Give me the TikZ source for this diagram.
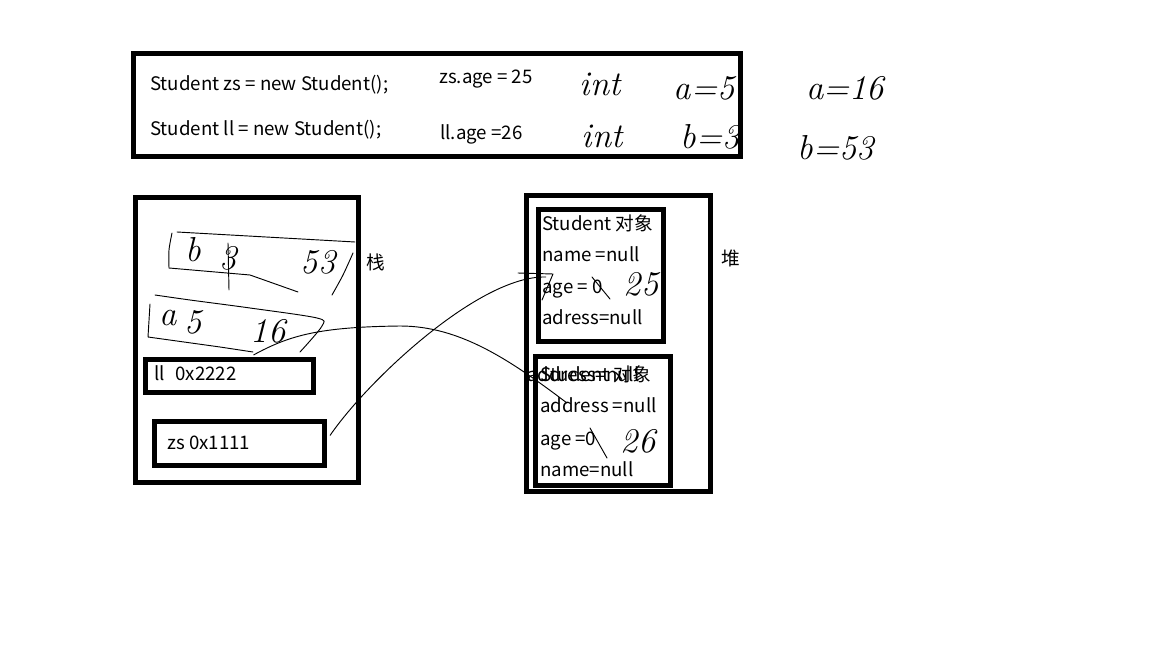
\documentclass[tikz,border=0pt]{standalone}
\usepackage{fontspec}
\newfontfamily\yahei{Noto Sans CJK SC}
\usetikzlibrary{calc, fit, positioning}

\begin{document}
\begin{tikzpicture}[x=0.75pt, y=-0.75pt, >=latex, font=\yahei\fontsize{14}{16}\selectfont,
    box/.style={draw, line width=3.75pt, inner sep=0pt},
    txt/.style={anchor=base west, inner sep=0pt},
    link/.style={line width=0.7pt},
    hand/.style={line width=0.7pt, line join=round, line cap=round},
    htxt/.style={inner sep=0pt, font=\normalfont\itshape\fontsize{26}{28}\selectfont}]
    \useasboundingbox (0,0) rectangle (1152,648);

    \coordinate (a01) at (133.5, 53.5);
    \coordinate (a02) at (740.5,156.5);
    \coordinate (a03) at (135.5,197.5);
    \coordinate (a04) at (358  ,482.5);
    \coordinate (a05) at (526.5,195.5);
    \coordinate (a06) at (710.5,491.5);

    \coordinate (b01) at (145.5,359.5);
    \coordinate (b02) at (313.5,392.5);
    \coordinate (b03) at (154.5,421.5);
    \coordinate (b04) at (324.5,465.5);
    \coordinate (b05) at (538.5,209.5);
    \coordinate (b06) at (663.5,341.5);
    \coordinate (b07) at (535.5,356.5);
    \coordinate (b08) at (670.5,485.5);

    \coordinate (h1) at (546,277);
    \coordinate (h2) at (567,403);

    \node[box, fit=(a01)(a02)] (code) {};
    \node[box, fit=(a03)(a04)] (stack) {};
    \node[box, fit=(a05)(a06)] (heap) {};
    \node[box, fit=(b01)(b02)] (ll) {};
    \node[box, fit=(b03)(b04)] (zs) {};
    \node[box, fit=(b05)(b06)] (obj1) {};
    \node[box, fit=(b07)(b08)] (obj2) {};

    \node[txt] (t01) at (150, 91) {Student zs = new Student();};
    \node[txt] (t02) at (150,136) {Student ll = new Student();};
    \node[txt] (t03) at (439, 84) {zs.age = 25};
    \node[txt] (t04) at (440,140) {ll.age =26};

    \node[txt] (t05) at (154,380) {ll\hspace{8pt}0x2222};
    \node[txt] (t06) at (167,449) {zs 0x1111};
    \node[txt] (t07) at (366,270) {栈};
    \node[txt] (t08) at (721,266) {堆};

    \node[txt] (o11) at (542,231) {Student 对象};
    \node[txt] (o12) at (542,262) {name =null};
    \node[txt] (o13) at (542,293.5) {age = 0};
    \node[txt] (o14) at (542,325) {adress=null};

    \node[txt] (o21) at (540,381.5) {Student 对象};
    \node[txt] (o20) at (527,381.5) {address=null};
    \node[txt] (o22) at (540,412) {address =null};
    \node[txt] (o23) at (540,445) {age =0};
    \node[txt] (o24) at (540,476.5) {name=null};

    % handwriting
    \node[htxt] (w01) at (600, 84) {int};
    \node[htxt] (w02) at (704, 88) {a=5};
    \node[htxt] (w03) at (602,136) {int};
    \node[htxt] (w04) at (710,137) {b=3};
    \node[htxt] (w05) at (845, 88) {a=16};
    \node[htxt] (w06) at (836,148) {b=53};
    \node[htxt] (w07) at (641,284) {25};
    \node[htxt] (w08) at (638,441) {26};
    \node[htxt] (w09) at (193,250) {b};
    \node[htxt] (w10) at (228,258) {3};
    \node[htxt] (w11) at (318,262) {53};
    \node[htxt] (w12) at (168,318) {a};
    \node[htxt] (w13) at (193,322) {5};
    \node[htxt] (w14) at (268,331) {16};

    \draw[hand] (592,277) -- (610,299);
    \draw[hand] (590,428) -- (607,458);
    \draw[hand] (228,243) -- (229,290);
    \draw[hand] plot[smooth] coordinates {(169,268) (169,250) (172,233)};
    \draw[hand] (177,232) -- (355,242);
    \draw[hand] (169,268) -- (250,275) -- (298,292);
    \draw[hand] plot[smooth] coordinates {(353,253) (343,275) (332,295)};
    \draw[hand] plot[smooth] coordinates {(155,295) (190,300) (250,308) (317,318) (322,326) (300,352)};
    \draw[hand] (150,304) -- (148,337) -- (220,347) -- (253,352);
    \draw[hand] (518,273) -- (553,274) -- (542,300);

    \draw[link] ($(zs.east)+(3,-8)$) .. controls (368,380) and (480,275) .. (h1);
    \draw[link] ($(ll.north)+(24,-2)$) .. controls (290,335) and (320,327) .. (400,326)
        .. controls (460,326) and (510,360) .. (h2);
\end{tikzpicture}
\end{document}
